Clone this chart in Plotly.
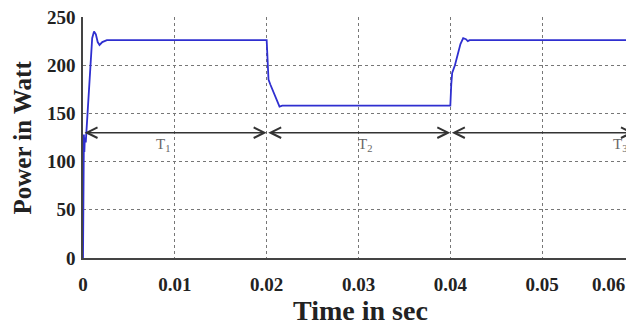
import plotly.graph_objects as go

# Data
time_s = [0.0, 0.00002, 0.00005, 0.0001, 0.00015, 0.0002, 0.0003, 0.0005, 0.0008, 0.0010,
          0.0012, 0.0014, 0.0016, 0.0018, 0.0021, 0.0026, 0.0200, 0.0201, 0.0202, 0.0204,
          0.0208, 0.0212, 0.0214, 0.0217, 0.0400, 0.0401, 0.0402, 0.0405, 0.0408, 0.0411,
          0.0414, 0.0417, 0.0419, 0.0421, 0.0600]
power_w = [0, 105, 118, 128, 110, 125, 120, 150, 200, 228,
           235, 232, 224, 221, 224, 226, 226, 200, 185, 180,
           170, 162, 157, 158, 158, 180, 192, 200, 212, 222,
           228, 227, 225, 226, 226]

x_ticks = [0, 0.01, 0.02, 0.03, 0.04, 0.05, 0.06]
x_tick_labels = ["0", "0.01", "0.02", "0.03", "0.04", "0.05", "0.06"]
y_ticks = [0, 50, 100, 150, 200, 250]

intervals = [(0.0, 0.02), (0.02, 0.04), (0.04, 0.06)]
interval_labels = ["T<sub>1</sub>", "T<sub>2</sub>", "T<sub>3</sub>"]
interval_label_x = [0.0087, 0.0307, 0.0585]
arrow_level = 130
label_level = 117

x_title = "Time in sec"
y_title = "Power in Watt"

FONT = "Liberation Serif"

fig = go.Figure()
fig.add_trace(go.Scatter(x=time_s, y=power_w, mode="lines",
                         line=dict(color="#2f2fd0", width=1.8), showlegend=False))

annotations = []
for (a, b) in intervals:
    annotations.append(dict(x=b, y=arrow_level, ax=a, ay=arrow_level, xref="x", yref="y",
                            axref="x", ayref="y", showarrow=True, arrowhead=5, startarrowhead=5,
                            arrowside="end+start", arrowsize=1.4, startarrowsize=1.4,
                            arrowwidth=1.5, arrowcolor="#333333", text=""))
for lab, lx in zip(interval_labels, interval_label_x):
    annotations.append(dict(x=lx, y=label_level, xref="x", yref="y", text=lab, showarrow=False,
                            font=dict(family=FONT, size=15, color="#666666")))

# last tick label sits at the clipped right edge, so it is drawn inward like in the reference
annotations.append(dict(x=x_ticks[-1], y=0, xref="x", yref="paper", text="<b>" + x_tick_labels[-1] + "</b>",
                        showarrow=False, xanchor="right", yanchor="middle", yshift=-26, xshift=-8,
                        borderpad=0, font=dict(family=FONT, size=19, color="#222222")))

annotations.append(dict(x=0.504, y=0, xref="paper", yref="paper", text="<b>" + x_title + "</b>",
                        showarrow=False, yanchor="middle", xanchor="center", yshift=-52,
                        borderpad=0,
                        font=dict(family=FONT, size=28, color="#222222")))
annotations.append(dict(x=0, y=0.5, xref="paper", yref="paper", text="<b>" + y_title + "</b>",
                        showarrow=False, yanchor="middle", xanchor="center", xshift=-61,
                        textangle=-90, font=dict(family=FONT, size=25, color="#222222")))

# The page adds an 8 px body margin, so the figure is placed to compensate.
fig.update_layout(
    width=626, height=327,
    margin=dict(l=75, r=0, t=9, b=77, autoexpand=False),
    paper_bgcolor="white", plot_bgcolor="white",
    annotations=annotations,
    font=dict(family=FONT, color="#222222"),
)
fig.update_xaxes(range=[0, 0.06], tickvals=x_ticks[:-1], ticktext=x_tick_labels[:-1],
                 automargin=False, ticklabeloverflow="allow",
                 showgrid=True, gridcolor="#777777", griddash="dot", gridwidth=1,
                 showline=True, linecolor="#444444", linewidth=1.5, mirror=False,
                 ticks="", zeroline=False, ticklabelstandoff=8,
                 tickfont=dict(family=FONT, size=19, color="#222222", weight="bold"))
fig.update_yaxes(range=[0, 250], tickvals=y_ticks,
                 automargin=False, ticklabeloverflow="allow",
                 showgrid=True, gridcolor="#777777", griddash="dot", gridwidth=1,
                 showline=True, linecolor="#444444", linewidth=1.5,
                 ticks="", zeroline=False, ticklabelstandoff=2,
                 tickfont=dict(family=FONT, size=19, color="#222222", weight="bold"))

fig.write_html("out.html")
